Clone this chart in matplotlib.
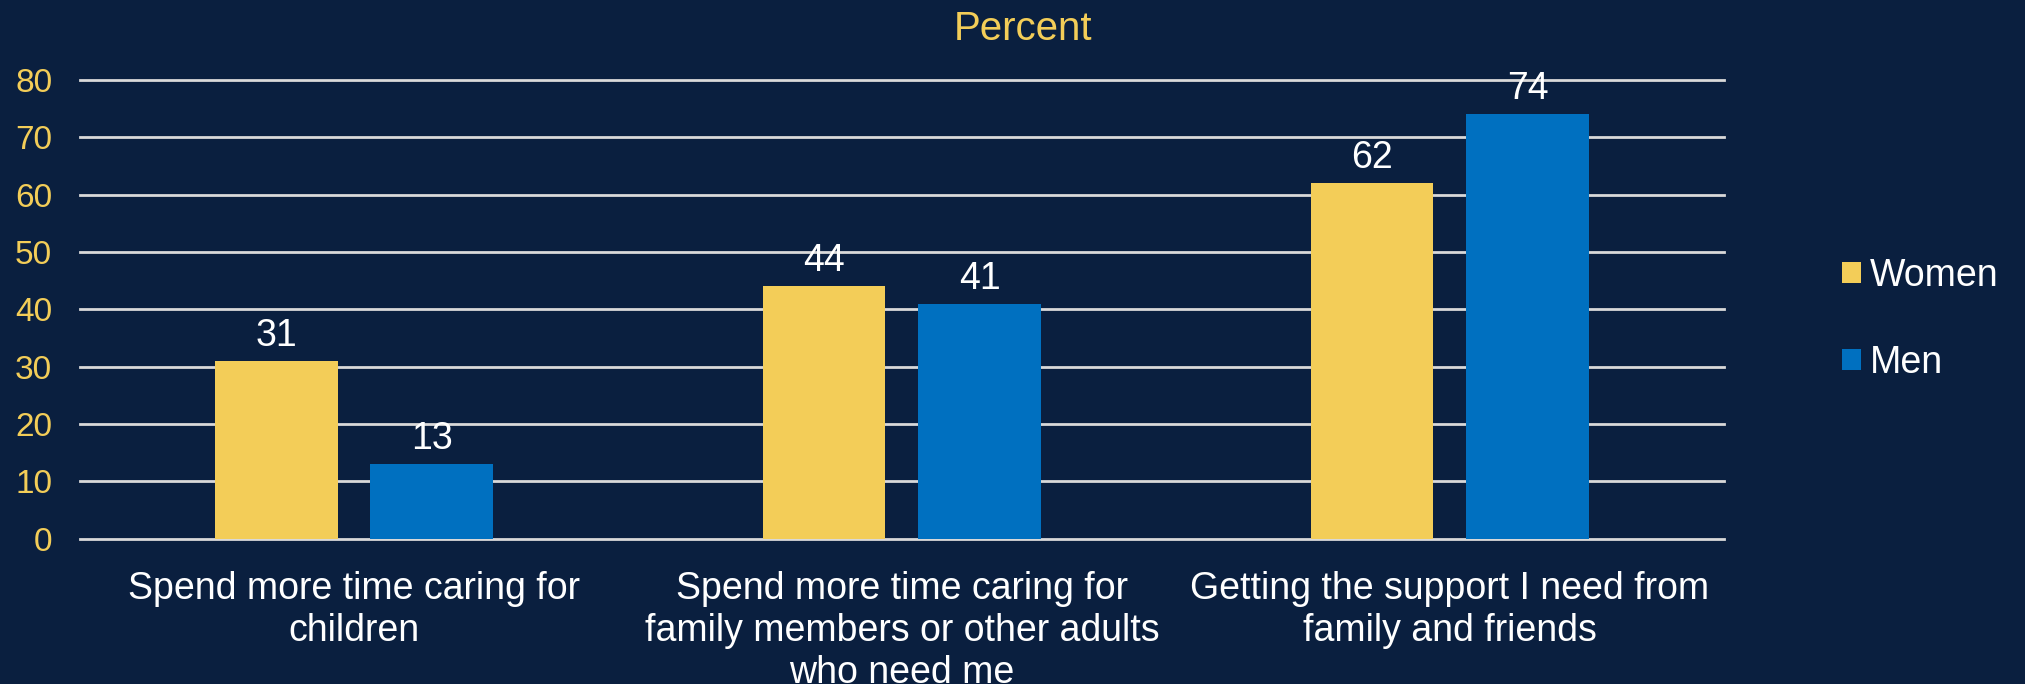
import matplotlib

matplotlib.use("Agg")
import matplotlib.pyplot as plt
import numpy as np

categories = [
    "Spend more time caring for\nchildren",
    "Spend more time caring for\nfamily members or other adults\nwho need me",
    "Getting the support I need from\nfamily and friends",
]
women = [31, 44, 62]
men = [13, 41, 74]
y_ticks = [0, 10, 20, 30, 40, 50, 60, 70, 80]

BG = "#0A1F3F"
YELLOW = "#F3CD58"
BLUE = "#0070C0"
GRID = "#D9D9D9"

plt.rcParams["font.family"] = ["Liberation Sans", "DejaVu Sans"]

fig = plt.figure(figsize=(20.25, 6.84), dpi=100, facecolor=BG)
ax = fig.add_axes([0.0395, 0.2126, 0.8118, 0.6705], facecolor=BG)

x = np.arange(len(categories))
width = 0.224
offset = 0.142
b1 = ax.bar(x - offset, women, width, color=YELLOW, label="Women", zorder=3)
b2 = ax.bar(x + offset, men, width, color=BLUE, label="Men", zorder=3)

ax.bar_label(b1, padding=5, color="white", fontsize=27)
ax.bar_label(b2, padding=5, color="white", fontsize=27)

ax.set_xlim(-0.5, len(categories) - 0.5)
ax.set_ylim(0, 80)
ax.set_yticks(y_ticks)
ax.yaxis.grid(True, color=GRID, lw=2, zorder=0)
for gl in ax.get_ygridlines():
    gl.set_clip_on(False)
ax.set_axisbelow(True)
for s in ax.spines.values():
    s.set_visible(False)
ax.tick_params(axis="y", length=0, colors=YELLOW, labelsize=24, pad=20)
ax.tick_params(axis="x", length=0, colors="white", labelsize=27, pad=23)
ax.set_xticks(x)
ax.set_xticklabels(categories, linespacing=1.22)

fig.text(0.505, 0.957, "Percent", color=YELLOW, fontsize=29, ha="center", va="center")

leg = fig.legend(
    loc="center left", bbox_to_anchor=(0.893, 0.533), frameon=False,
    fontsize=27, labelcolor="white", handlelength=0.5, handleheight=0.5,
    handletextpad=0.25, labelspacing=1.35,
)

fig.savefig("out.png", dpi=100, facecolor=BG)
